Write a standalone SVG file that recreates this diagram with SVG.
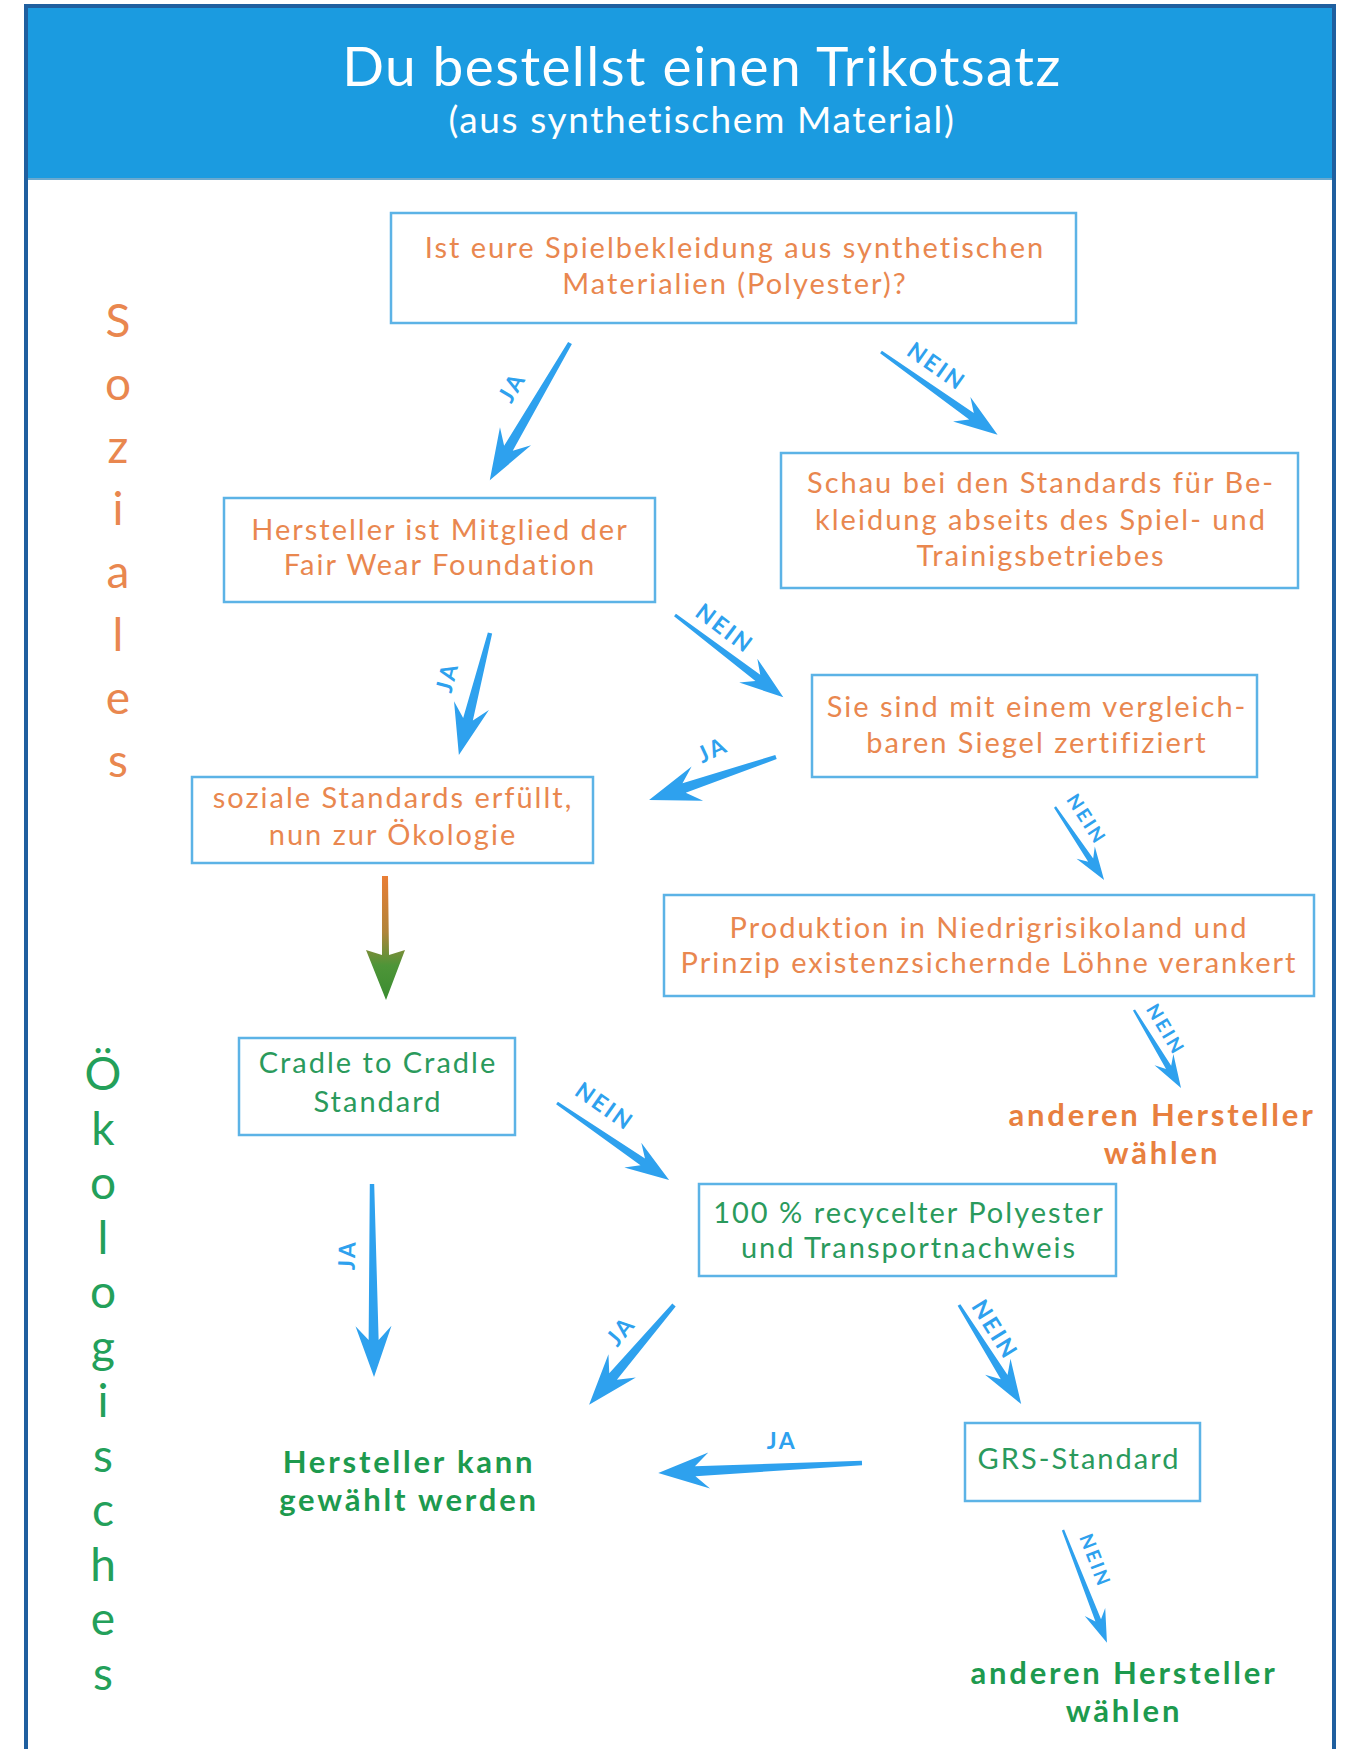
<svg xmlns="http://www.w3.org/2000/svg" width="1347" height="1749" viewBox="0 0 1347 1749">
<defs>
<style>
.box{fill:#ffffff;stroke:#5cb3e6;stroke-width:2.5}
.t{font-family:Lato,"Open Sans","Liberation Sans",sans-serif;text-anchor:middle}
.or{fill:#e9874f;font-size:29px;letter-spacing:2px}
.gr{fill:#2a9a5c;font-size:29px;letter-spacing:2px}
.bo{font-weight:bold;font-size:31px;letter-spacing:2.8px}
.orb{fill:#e8803f}
.grb{fill:#1d9a4e}
.arr{fill:#2ea1ee}
.lbl{fill:#2ea1ee;font-family:Lato,"Open Sans","Liberation Sans",sans-serif;font-weight:bold;font-size:23px;letter-spacing:2.5px;text-anchor:middle}
.sm{font-size:19px;letter-spacing:2.5px}
.side{font-family:Lato,"Open Sans","Liberation Sans",sans-serif;text-anchor:middle;font-size:46px}
</style>
<linearGradient id="og" x1="0" y1="876" x2="0" y2="1000" gradientUnits="userSpaceOnUse">
<stop offset="0" stop-color="#ea7e35"/>
<stop offset="0.45" stop-color="#b0843a"/>
<stop offset="0.72" stop-color="#4e9538"/>
<stop offset="1" stop-color="#3a8c30"/>
</linearGradient>
</defs>
<rect x="0" y="0" width="1347" height="1749" fill="#ffffff"/>
<g id="frame">
<rect x="26" y="6" width="1308" height="1760" fill="#ffffff" stroke="#1f5f9f" stroke-width="4"/>
<rect x="28" y="8" width="1304" height="170" fill="#1b9be0"/>
<line x1="28" y1="179" x2="1332" y2="179" stroke="#6aa9cf" stroke-width="2"/>
</g>
<g id="title">
<text class="t" x="702" y="86" fill="#ffffff" font-size="55" letter-spacing="1.4">Du bestellst einen Trikotsatz</text>
<text class="t" x="702" y="133" fill="#ffffff" font-size="37" letter-spacing="1.6">(aus synthetischem Material)</text>
</g>
<g id="side-labels">
<g class="side" fill="#e9874f">
<text x="118" y="337">S</text><text x="118" y="400">o</text><text x="118" y="463">z</text><text x="118" y="525">i</text><text x="118" y="588">a</text><text x="118" y="651">l</text><text x="118" y="714">e</text><text x="118" y="777">s</text>
</g>
<g class="side" fill="#23a05a">
<text x="103" y="1090">Ö</text><text x="103" y="1145">k</text><text x="103" y="1199">o</text><text x="103" y="1254">l</text><text x="103" y="1308">o</text><text x="103" y="1363">g</text><text x="103" y="1417">i</text><text x="103" y="1472">s</text><text x="103" y="1526">c</text><text x="103" y="1581">h</text><text x="103" y="1635">e</text><text x="103" y="1690">s</text>
</g>
</g>
<g id="connectors">
<path class="arr" transform="translate(570,343) rotate(120.3)" d="M0,-2.2 L122,-5 L108,-18 L159,0 L108,18 L122,5 L0,2.2Z"/>
<path class="arr" transform="translate(881,352) rotate(35.4)" d="M0,-1.6 L111,-4 L99,-15 L143,0 L99,15 L111,4 L0,1.6Z"/>
<path class="arr" transform="translate(490,633) rotate(104.3)" d="M0,-2.2 L89,-5 L75,-18 L126,0 L75,18 L89,5 L0,2.2Z"/>
<path class="arr" transform="translate(675,615) rotate(37.2)" d="M0,-1.6 L104,-4 L92,-15 L136,0 L92,15 L104,4 L0,1.6Z"/>
<path class="arr" transform="translate(776,757) rotate(161.3)" d="M0,-2.2 L97,-5 L83,-18 L134,0 L83,18 L97,5 L0,2.2Z"/>
<path class="arr" transform="translate(1055,807) rotate(56.1)" d="M0,-1.2 L64,-3 L55,-11 L88,0 L55,11 L64,3 L0,1.2Z"/>
<path class="arr" transform="translate(1134,1010) rotate(58.9)" d="M0,-1.2 L67,-3 L58,-11 L91,0 L58,11 L67,3 L0,1.2Z"/>
<path fill="url(#og)" d="M382,876 L388,876 L389,955 L405,950 L386,1000 L366,950 L382,955 Z"/>
<path class="arr" transform="translate(557,1103) rotate(34.5)" d="M0,-1.6 L104,-4 L92,-15 L136,0 L92,15 L104,4 L0,1.6Z"/>
<path class="arr" transform="translate(372,1184) rotate(89.4)" d="M0,-2.2 L156,-5 L142,-18 L193,0 L142,18 L156,5 L0,2.2Z"/>
<path class="arr" transform="translate(674,1305) rotate(130.4)" d="M0,-2.2 L94,-5 L80,-18 L131,0 L80,18 L94,5 L0,2.2Z"/>
<path class="arr" transform="translate(959,1305) rotate(57.9)" d="M0,-1.6 L85,-4 L73,-15 L117,0 L73,15 L85,4 L0,1.6Z"/>
<path class="arr" transform="translate(862,1463) rotate(177.2)" d="M0,-2.2 L167,-5 L153,-18 L204,0 L153,18 L167,5 L0,2.2Z"/>
<path class="arr" transform="translate(1063,1530) rotate(68.7)" d="M0,-1.2 L97,-3 L88,-11 L121,0 L88,11 L97,3 L0,1.2Z"/>
<text class="lbl" transform="translate(519,391) rotate(-60)">JA</text>
<text class="lbl" transform="translate(932,373) rotate(35)">NEIN</text>
<text class="lbl" transform="translate(455,679) rotate(-76)">JA</text>
<text class="lbl" transform="translate(720,635) rotate(37)">NEIN</text>
<text class="lbl" transform="translate(716,757) rotate(-25)">JA</text>
<text class="lbl sm" transform="translate(1081,823) rotate(57)">NEIN</text>
<text class="lbl sm" transform="translate(1160,1033) rotate(59)">NEIN</text>
<text class="lbl" transform="translate(600,1113) rotate(35)">NEIN</text>
<text class="lbl" transform="translate(355,1255) rotate(-88)">JA</text>
<text class="lbl" transform="translate(627,1336) rotate(-50)">JA</text>
<text class="lbl" transform="translate(988,1334) rotate(58)">NEIN</text>
<text class="lbl" transform="translate(782,1449)">JA</text>
<text class="lbl sm" transform="translate(1089,1563) rotate(69)">NEIN</text>
</g>
<g id="n1">
<rect class="box" x="391" y="213" width="685" height="110"/>
<text class="t or" x="735" y="258">Ist eure Spielbekleidung aus synthetischen</text>
<text class="t or" x="735" y="294">Materialien (Polyester)?</text>
</g>
<g id="n2">
<rect class="box" x="781" y="453" width="517" height="135"/>
<text class="t or" x="1041" y="493">Schau bei den Standards für Be-</text>
<text class="t or" x="1041" y="530">kleidung abseits des Spiel- und</text>
<text class="t or" x="1041" y="566">Trainigsbetriebes</text>
</g>
<g id="n3">
<rect class="box" x="224" y="498" width="431" height="104"/>
<text class="t or" x="440" y="540">Hersteller ist Mitglied der</text>
<text class="t or" x="440" y="575">Fair Wear Foundation</text>
</g>
<g id="n4">
<rect class="box" x="812" y="675" width="445" height="102"/>
<text class="t or" x="1037" y="717">Sie sind mit einem vergleich-</text>
<text class="t or" x="1037" y="753">baren Siegel zertifiziert</text>
</g>
<g id="n5">
<rect class="box" x="192" y="777" width="401" height="86"/>
<text class="t or" x="393" y="808">soziale Standards erfüllt,</text>
<text class="t or" x="393" y="845">nun zur Ökologie</text>
</g>
<g id="n6">
<rect class="box" x="664" y="895" width="650" height="101"/>
<text class="t or" x="989" y="938">Produktion in Niedrigrisikoland und</text>
<text class="t or" x="989" y="973">Prinzip existenzsichernde Löhne verankert</text>
</g>
<g id="n7">
<text class="t bo orb" x="1162" y="1126">anderen Hersteller</text>
<text class="t bo orb" x="1162" y="1164">wählen</text>
</g>
<g id="n8">
<rect class="box" x="239" y="1038" width="276" height="97"/>
<text class="t gr" x="378" y="1073">Cradle to Cradle</text>
<text class="t gr" x="378" y="1112">Standard</text>
</g>
<g id="n9">
<rect class="box" x="699" y="1184" width="417" height="92"/>
<text class="t gr" x="909" y="1223">100 % recycelter Polyester</text>
<text class="t gr" x="909" y="1258">und Transportnachweis</text>
</g>
<g id="n10">
<text class="t bo grb" x="409" y="1473">Hersteller kann</text>
<text class="t bo grb" x="409" y="1511">gewählt werden</text>
</g>
<g id="n11">
<rect class="box" x="965" y="1423" width="235" height="78"/>
<text class="t gr" x="1079" y="1469">GRS-Standard</text>
</g>
<g id="n12">
<text class="t bo grb" x="1124" y="1684">anderen Hersteller</text>
<text class="t bo grb" x="1124" y="1722">wählen</text>
</g>
</svg>
